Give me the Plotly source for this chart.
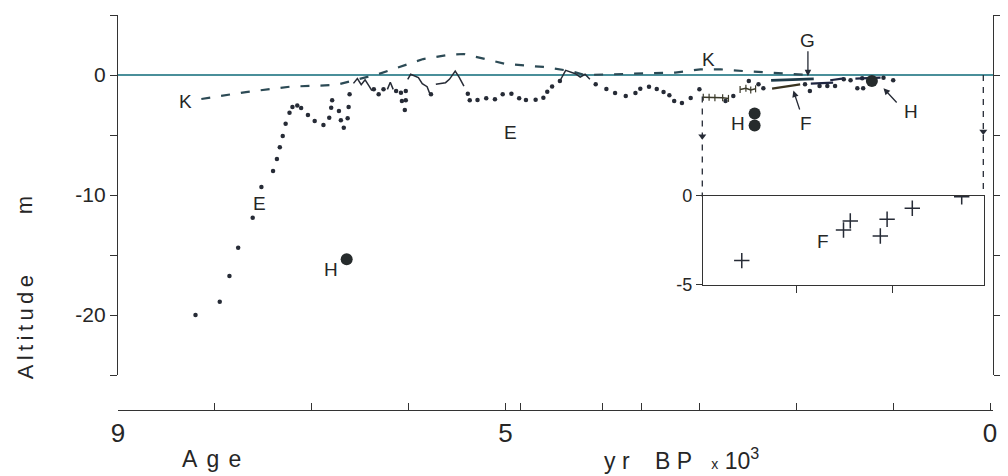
import plotly.graph_objects as go

# ---------------- data (age in 10^3 yr BP, altitude in m) ----------------
E_age = [8.20, 7.95, 7.85, 7.76, 7.61, 7.52, 7.40, 7.36, 7.33, 7.30, 7.27, 7.23,
         7.20, 7.15, 7.11, 7.04, 6.97, 6.88, 6.82, 6.80, 6.79, 6.72, 6.70, 6.67,
         6.63, 6.62, 6.61, 6.36, 6.31, 6.26, 6.13, 6.08, 6.03, 6.07, 6.03, 6.04,
         5.77, 5.39, 5.37, 5.29, 5.20, 5.11, 5.03, 4.94, 4.86, 4.79, 4.69, 4.61,
         4.57, 4.52, 4.44, 4.07, 3.96, 3.87, 3.76, 3.66, 3.61, 3.52, 3.44, 3.37,
         3.31, 3.26, 3.18, 3.09, 3.00, 2.73, 2.65, 2.49, 2.39, 2.34, 1.91, 1.86,
         1.76, 1.68, 1.60, 1.51, 1.44, 1.37, 1.31, 1.32, 1.10, 1.00]
E_alt = [-20.0, -18.9, -16.75, -14.4, -11.9, -9.33, -8.0, -7.0, -6.03, -5.08, -4.06, -3.14,
         -2.67, -2.54, -2.75, -3.33, -3.83, -4.17, -3.56, -2.72, -2.1, -3.0, -3.78, -4.39,
         -3.61, -2.67, -1.6, -1.19, -1.6, -1.19, -1.33, -1.47, -1.33, -2.17, -2.11, -2.92,
         -1.61, -1.56, -2.11, -2.08, -1.94, -2.03, -1.61, -1.56, -1.94, -2.08, -2.06, -1.89,
         -1.39, -0.96, -0.5, -0.78, -1.17, -1.5, -1.75, -1.5, -1.14, -0.97, -1.17, -1.42,
         -1.69, -2.17, -2.33, -1.92, -1.19, -2.17, -1.75, -0.5, -0.78, -1.11, -0.78, -1.33,
         -0.92, -0.92, -0.92, -0.36, -0.44, -1.11, -1.11, -0.28, -0.22, -0.44]

K_age = [8.14, 7.68, 7.22, 6.75, 6.31, 6.06, 5.85, 5.57, 5.43, 5.21, 5.00, 4.61,
         4.33, 4.18, 3.25, 2.99, 2.78, 2.55, 2.30, 2.06, 1.86]
K_alt = [-2.0, -1.42, -0.97, -0.83, 0.08, 0.75, 1.33, 1.70, 1.75, 1.33, 0.92, 0.67,
         0.33, 0.0, 0.2, 0.47, 0.47, 0.33, 0.2, 0.12, 0.0]

A_age = [6.57, 6.53, 6.49, 6.45, 6.41, 6.38, None,
         6.22, 6.19, 6.16, None,
         6.01, 5.98, 5.90, 5.86, 5.81, 5.78, None,
         5.72, 5.62, 5.58, 5.52, 5.48, 5.43, None,
         4.44, 4.38, 4.28, 4.23, 4.18, 4.13]
A_alt = [-0.7, -0.3, -0.8, -0.4, -0.9, -1.3, None,
         -1.2, -0.6, -1.2, None,
         -0.36, 0.06, -0.22, -0.72, -0.97, -1.6, None,
         -0.78, -0.64, -0.36, 0.33, -0.17, -0.92, None,
         -0.5, 0.39, 0.11, -0.17, 0.06, -0.36]

P_age = [2.96, 2.90, 2.84, 2.76, 2.70, None, 2.58, 2.52, 2.47, 2.42]
P_alt = [-1.85, -1.85, -1.9, -1.9, -1.95, None, -1.2, -1.1, -1.25, -1.15]

G_age = [2.26, 1.82]
G_alt = [-0.45, -0.32]
F_age = [2.25, 1.96]
F_alt = [-1.14, -0.78]
S_age = [1.85, 1.62, None, 1.65, 1.51, None, 1.39, 1.13]
S_alt = [-0.72, -0.64, None, -0.44, -0.28, None, -0.3, -0.22]

H_age = [6.64, 2.43, 2.43, 1.22]
H_alt = [-15.36, -3.2, -4.2, -0.5]

inset_age = [2.56, 1.51, 1.44, 1.13, 1.06, 0.80, 0.29]
inset_alt = [-3.63, -1.91, -1.40, -2.25, -1.31, -0.69, -0.04]

conn_age = [2.97, 0.07]
conn_top = [-1.8, 0.0]
conn_bottom = [-10.15, -10.15]
conn_arrow = [-5.1, -4.7]

x_tickvals = [9, 8, 7, 6, 5, 4.85, 4, 3.6, 3, 2, 1, 0]
x_ticktext = ["9", "", "", "", "5", "", "", "", "", "", "", "0"]
y_tickvals = [5, 0, -5, -10, -15, -20, -25]
y_ticktext = ["", "0", "", "-10", "", "-20", ""]

INK = "#262b36"
TXT = "#262626"
FONT = "Liberation Sans, Arial, sans-serif"
TS = "\u2009"  # thin space for letter spacing

fig = go.Figure()

# E : dotted curve
fig.add_trace(go.Scatter(x=E_age, y=E_alt, mode="markers",
                         marker=dict(size=4.5, color=INK), hoverinfo="skip"))
# K : dashed curve
fig.add_trace(go.Scatter(x=K_age, y=K_alt, mode="lines",
                         line=dict(color="#2c4a55", width=2.2, dash="9px,11px")))
# A : short solid wiggles
fig.add_trace(go.Scatter(x=A_age, y=A_alt, mode="lines", connectgaps=False,
                         line=dict(color=INK, width=1.5)))
# small segments
fig.add_trace(go.Scatter(x=P_age, y=P_alt, mode="lines+markers", connectgaps=False,
                         line=dict(color="#3b3a2a", width=1.5),
                         marker=dict(symbol="line-ns", size=5,
                                     line=dict(color="#3b3a2a", width=1.2))))
fig.add_trace(go.Scatter(x=G_age, y=G_alt, mode="lines",
                         line=dict(color="#1e3a48", width=2.6)))
fig.add_trace(go.Scatter(x=F_age, y=F_alt, mode="lines",
                         line=dict(color="#3a3420", width=2.2)))
fig.add_trace(go.Scatter(x=S_age, y=S_alt, mode="lines", connectgaps=False,
                         line=dict(color="#1e2540", width=2.2)))
# H : large dots
fig.add_trace(go.Scatter(x=H_age, y=H_alt, mode="markers",
                         marker=dict(size=12, color="#262b2c")))
# dashed connectors to inset
for a, t, b in zip(conn_age, conn_top, conn_bottom):
    fig.add_trace(go.Scatter(x=[a, a], y=[t, b], mode="lines",
                             line=dict(color=INK, width=1.3, dash="6px,6px")))
fig.add_trace(go.Scatter(x=conn_age, y=conn_arrow, mode="markers",
                         marker=dict(symbol="triangle-down", size=7, color=INK)))
# right-hand axis holder
fig.add_trace(go.Scatter(x=[None], y=[None], yaxis="y3", mode="markers"))

# inset F crosses
fig.add_trace(go.Scatter(x=inset_age, y=inset_alt, mode="markers", xaxis="x2", yaxis="y2",
                         marker=dict(symbol="cross-thin", size=11,
                                     line=dict(color=INK, width=1.5))))

# labels
def lab(text, x, y, xref="x", yref="y", size=19, **kw):
    fig.add_annotation(text=text, x=x, y=y, xref=xref, yref=yref, showarrow=False,
                       xanchor="center", yanchor="middle",
                       font=dict(family=FONT, size=size, color=TXT), **kw)

lab("K", 8.30, -2.17)
lab("K", 2.91, 1.33)
lab("E", 7.54, -10.67)
lab("E", 4.95, -4.75)
lab("H", 6.80, -16.17)
lab("H", 2.60, -4.0)
lab("H", 0.82, -3.0)
lab("G", 1.88, 2.85)
lab("F", 1.90, -4.0)
lab("F", 1.72, -2.58, xref="x2", yref="y2")

def arrow(xt, yt, xs, ys):
    fig.add_annotation(x=xt, y=yt, ax=xs, ay=ys, xref="x", yref="y", axref="x", ayref="y",
                       showarrow=True, arrowhead=2, arrowsize=1, arrowwidth=1.3,
                       arrowcolor=INK, text="")

arrow(1.88, -0.1, 1.88, 2.1)
arrow(2.03, -1.3, 1.96, -3.0)
arrow(1.10, -1.1, 0.95, -2.42)

# axis titles
NB = "&nbsp;"
lab(TS.join("Age").replace(TS, TS + TS), 8.04, 0, xref="x", yref="paper", size=23, yshift=-49)
lab("y r" + NB * 4 + "B P" + NB * 3 + "<span style='font-size:14px'>x</span>" + NB +
    "10<sup>3</sup>", 3.18, 0, xref="x", yref="paper", size=23, yshift=-49)
lab(TS.join("Altitude"), -0.106, 0.21, xref="paper", yref="paper", size=22, textangle=-90)
lab("m", -0.106, 0.519, xref="paper", yref="paper", size=22, textangle=-90)

axis_common = dict(showgrid=False, linecolor="#333", linewidth=1.4, tickcolor="#333",
                   tickwidth=1.3, automargin=False,
                   tickfont=dict(family=FONT, size=21, color=TXT))

fig.update_layout(
    width=1008, height=476, showlegend=False,
    margin=dict(l=118, r=15, t=15, b=66),
    plot_bgcolor="white", paper_bgcolor="white",
    xaxis=dict(range=[9.0, -0.03], anchor="free", position=0, showline=True,
               ticks="inside", ticklen=7, tickvals=x_tickvals, ticktext=x_ticktext,
               zeroline=False,
               **{**axis_common, "tickfont": dict(family=FONT, size=26, color=TXT)}),
    yaxis=dict(domain=[0.0886, 1], range=[-25, 5], showline=True, ticks="outside",
               ticklen=7, tickvals=y_tickvals, ticktext=y_ticktext,
               zeroline=True, zerolinecolor="#4a8f9a", zerolinewidth=1.6, **axis_common),
    yaxis3=dict(overlaying="y", side="right", anchor="x", range=[-25, 5], showline=True,
                ticks="outside", ticklen=6, tickvals=y_tickvals,
                showticklabels=False, zeroline=False, **axis_common),
    xaxis2=dict(domain=[0.6686, 0.9897], anchor="y2", range=[2.96, 0.06], showline=True,
                mirror=True, ticks="outside", ticklen=7, tickvals=[2, 1],
                showticklabels=False, zeroline=False, **axis_common),
    yaxis2=dict(domain=[0.3165, 0.5418], anchor="x2", range=[-5, 0], showline=True,
                mirror=True, ticks="outside", ticklen=6, tickvals=[0, -5],
                ticktext=["0", "-5"], zeroline=False,
                **{**axis_common, "tickfont": dict(family=FONT, size=18, color=TXT)}),
)

fig.write_html("out.html", config={"displayModeBar": False},
               post_script="document.body.style.margin='0px';")
